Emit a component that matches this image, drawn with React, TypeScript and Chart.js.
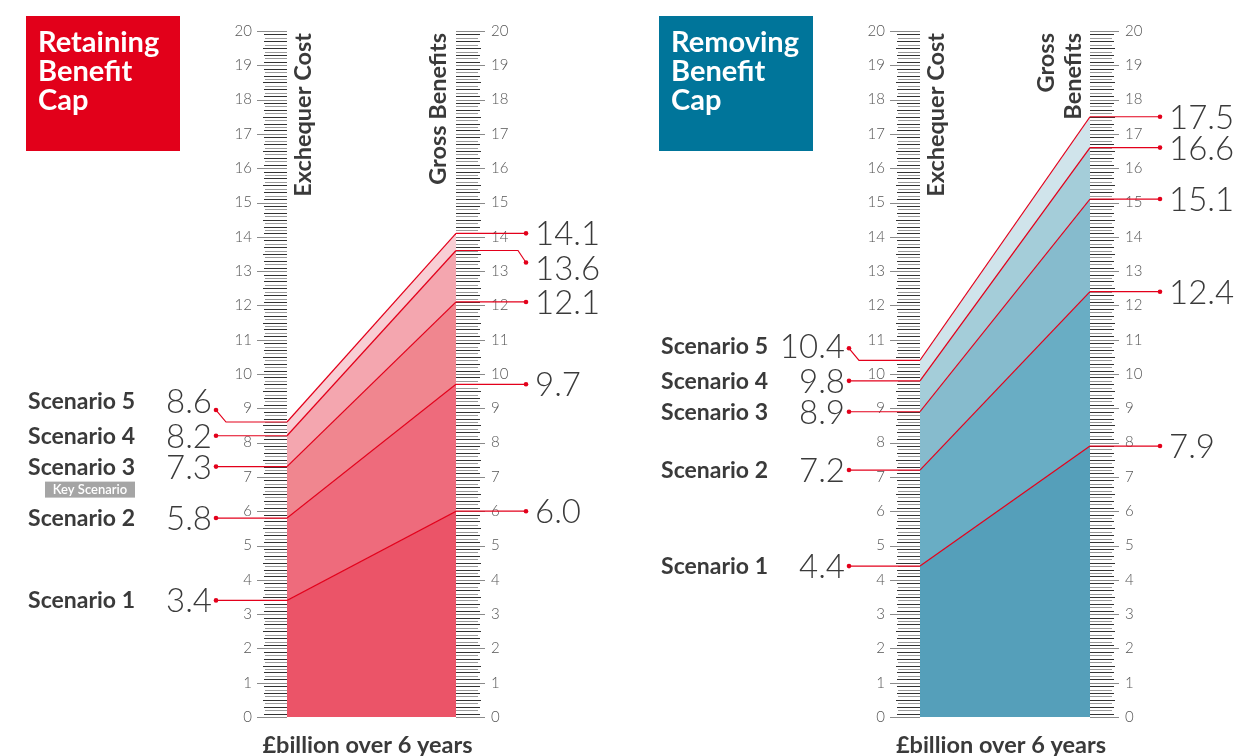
import React, { useEffect, useRef } from "react";
import { Chart, registerables } from "chart.js";

Chart.register(...registerables);

// ---- data ----
const scenarioNames = ["Scenario 1", "Scenario 2", "Scenario 3", "Scenario 4", "Scenario 5"];
const retainExchequer = [3.4, 5.8, 7.3, 8.2, 8.6];
const retainGross = [6.0, 9.7, 12.1, 13.6, 14.1];
const removeExchequer = [4.4, 7.2, 8.9, 9.8, 10.4];
const removeGross = [7.9, 12.4, 15.1, 16.6, 17.5];
const rulerTickLabels = [0, 1, 2, 3, 4, 5, 6, 7, 8, 9, 10, 11, 12, 13, 14, 15, 16, 17, 18, 19, 20];
const unitLabel = "£billion over 6 years";

const RED = "#E3001B";
const TEXT = "#3a3a3a";
const FONT = "Lato, 'Open Sans', sans-serif";

type PanelCfg = {
  title: string[];
  boxColor: string;
  fills: string[];
  exch: number[];
  gross: number[];
  grossTitle: string[];
  keyIndex: number;
  leftNudge: Record<number, [number, number]>;
  rightNudge: Record<number, [number, number]>;
  canvasLeft: number;
  padLeft: number;
  padRight: number;
};

const panels: PanelCfg[] = [
  {
    title: ["Retaining", "Benefit", "Cap"],
    boxColor: "#E2001A",
    fills: ["#EB5468", "#EE6B7C", "#F0868F", "#F4A6AF", "#F8CED4"],
    exch: retainExchequer,
    gross: retainGross,
    grossTitle: ["Gross Benefits"],
    keyIndex: 2,
    leftNudge: { 4: [-12, -21] },
    rightNudge: { 3: [12, 17] },
    canvasLeft: 0,
    padLeft: 287,
    padRight: 173,
  },
  {
    title: ["Removing", "Benefit", "Cap"],
    boxColor: "#00759A",
    fills: ["#559FBA", "#69ADC4", "#86BBCD", "#A4CDD9", "#D0E4EB"],
    exch: removeExchequer,
    gross: removeGross,
    grossTitle: ["Gross", "Benefits"],
    keyIndex: -1,
    leftNudge: { 4: [-12, -14] },
    rightNudge: {},
    canvasLeft: 629,
    padLeft: 291,
    padRight: 168,
  },
];

function makePlugin(cfg: PanelCfg) {
  return {
    id: "infographic",
    afterDraw(chart: any) {
      const ctx: CanvasRenderingContext2D = chart.ctx;
      const ys = chart.scales.y;
      const { left, right } = chart.chartArea;
      const Y = (v: number) => ys.getPixelForValue(v);
      ctx.save();

      // rulers
      for (let k = 0; k <= 200; k++) {
        const v = k / 10;
        const y = Math.round(Y(v)) + 0.5;
        const major = k % 10 === 0;
        const dark = k % 2 === 1 || k % 5 === 0;
        ctx.lineWidth = 1;
        ctx.strokeStyle = major ? "#8a8a8a" : dark ? "#333333" : "#9a9a9a";
        const lenL = major ? 30 : k % 5 === 0 ? 24 : k % 2 ? 23 : 22;
        const lenR = major ? 29 : k % 5 === 0 ? 25 : k % 2 ? 24 : 22;
        ctx.beginPath();
        ctx.moveTo(left - lenL, y);
        ctx.lineTo(left, y);
        ctx.moveTo(right, y);
        ctx.lineTo(right + lenR, y);
        ctx.stroke();
      }
      ctx.fillStyle = "#555";
      ctx.font = `300 15px ${FONT}`;
      ctx.textBaseline = "middle";
      rulerTickLabels.forEach((t) => {
        const y = Y(t);
        ctx.textAlign = "right";
        ctx.fillText(String(t), left - 35, y);
        ctx.textAlign = "left";
        ctx.fillText(String(t), right + 35, y);
      });

      // title box
      const bx = left - 261;
      ctx.fillStyle = cfg.boxColor;
      ctx.fillRect(bx, 16, 154, 135);
      ctx.fillStyle = "#fff";
      ctx.font = `bold 29px ${FONT}`;
      ctx.textAlign = "left";
      ctx.textBaseline = "alphabetic";
      cfg.title.forEach((line, i) => ctx.fillText(line, bx + 12, 52 + i * 29));

      // axis titles (rotated)
      ctx.fillStyle = TEXT;
      ctx.font = `bold 23.5px ${FONT}`;
      const rot = (text: string, cx: number) => {
        ctx.save();
        ctx.translate(cx, 33);
        ctx.rotate(-Math.PI / 2);
        ctx.textAlign = "right";
        ctx.textBaseline = "middle";
        ctx.fillText(text, 0, 0);
        ctx.restore();
      };
      rot("Exchequer Cost", left + 16);
      if (cfg.grossTitle.length === 1) {
        rot(cfg.grossTitle[0], right - 18);
      } else {
        rot(cfg.grossTitle[0], right - 44);
        rot(cfg.grossTitle[1], right - 17);
      }

      // bottom unit label
      ctx.textAlign = "center";
      ctx.textBaseline = "middle";
      ctx.fillText(unitLabel, (left + right) / 2 - 4, 745);

      // leader lines + labels
      const dot = (x: number, y: number) => {
        ctx.fillStyle = RED;
        ctx.beginPath();
        ctx.arc(x, y, 2.3, 0, Math.PI * 2);
        ctx.fill();
      };
      ctx.strokeStyle = RED;
      ctx.lineWidth = 1.2;
      const dxL = left - 71;
      const dxR = right + 70;
      cfg.exch.forEach((v, i) => {
        const y = Y(v);
        const [dy, ty] = cfg.leftNudge[i] || [0, 0];
        ctx.strokeStyle = RED;
        ctx.beginPath();
        ctx.moveTo(left, y);
        if (dy) {
          ctx.lineTo(dxL + 10, y);
          ctx.lineTo(dxL, y + dy);
        } else ctx.lineTo(dxL, y);
        ctx.stroke();
        dot(dxL, y + dy);
        ctx.fillStyle = TEXT;
        ctx.font = `300 33px ${FONT}`;
        ctx.textAlign = "right";
        ctx.textBaseline = "alphabetic";
        ctx.fillText(v.toFixed(1), dxL - 4, y + ty + 12);
        ctx.font = `bold 23px ${FONT}`;
        const sx = left - 152;
        ctx.fillText(scenarioNames[i], sx, y + ty + 8);
        if (i === cfg.keyIndex) {
          ctx.fillStyle = "#A5A5A5";
          ctx.fillRect(sx - 90, y + ty + 15, 90, 16);
          ctx.fillStyle = "#fff";
          ctx.font = `600 13px ${FONT}`;
          ctx.textAlign = "center";
          ctx.textBaseline = "middle";
          ctx.fillText("Key Scenario", sx - 45, y + ty + 23.5);
        }
      });
      cfg.gross.forEach((v, i) => {
        const y = Y(v);
        const [dy, ty] = cfg.rightNudge[i] || [0, 0];
        ctx.strokeStyle = RED;
        ctx.beginPath();
        ctx.moveTo(right, y);
        if (dy) {
          ctx.lineTo(dxR - 8, y);
          ctx.lineTo(dxR, y + dy);
        } else ctx.lineTo(dxR, y);
        ctx.stroke();
        dot(dxR, y + dy);
        ctx.fillStyle = TEXT;
        ctx.font = `300 33px ${FONT}`;
        ctx.textAlign = "left";
        ctx.textBaseline = "alphabetic";
        ctx.fillText(v.toFixed(1), dxR + 9, y + ty + 12);
      });
      ctx.restore();
    },
  };
}

function Panel({ cfg }: { cfg: PanelCfg }) {
  const ref = useRef<HTMLCanvasElement | null>(null);
  useEffect(() => {
    if (!ref.current) return;
    const chart = new Chart(ref.current, {
      type: "line",
      data: {
        datasets: cfg.exch.map((e, i) => ({
          label: scenarioNames[i],
          data: [
            { x: 0, y: e },
            { x: 1, y: cfg.gross[i] },
          ],
          fill: i === 0 ? "origin" : "-1",
          backgroundColor: cfg.fills[i],
          borderColor: RED,
          borderWidth: 1.2,
          pointRadius: 0,
          tension: 0,
        })),
      },
      options: {
        responsive: false,
        animation: false,
        events: [],
        layout: { padding: { left: cfg.padLeft, right: cfg.padRight, top: 31, bottom: 39 } },
        scales: {
          x: { type: "linear", min: 0, max: 1, display: false },
          y: { type: "linear", min: 0, max: 20, display: false },
        },
        plugins: {
          legend: { display: false },
          tooltip: { enabled: false },
          filler: { drawTime: "beforeDatasetsDraw" },
        } as any,
      },
      plugins: [makePlugin(cfg)],
    } as any);
    return () => chart.destroy();
  }, [cfg]);
  return (
    <div style={{ position: "absolute", left: cfg.canvasLeft, top: 0, width: 629, height: 756 }}>
      <canvas ref={ref} width={629} height={756} style={{ width: 629, height: 756, display: "block" }} />
    </div>
  );
}

export default function App() {
  return (
    <div style={{ position: "absolute", left: 0, top: 0, width: 1258, height: 756, background: "#fff", overflow: "hidden" }}>
      {panels.map((p, i) => (
        <Panel key={i} cfg={p} />
      ))}
    </div>
  );
}
